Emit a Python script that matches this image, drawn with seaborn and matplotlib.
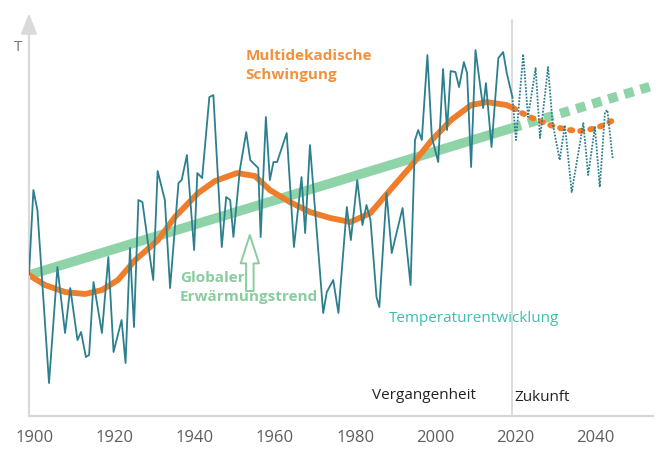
import numpy as np
import pandas as pd
import matplotlib.pyplot as plt
import seaborn as sns

# ---- data (arbitrary temperature units) ----
# Temperaturentwicklung, Vergangenheit (Eckpunkte der Zickzacklinie)
temp_years = [1898.6, 1899.7, 1900.7, 1903.6, 1905.7, 1907.6, 1908.9, 1910.7, 1911.6, 1912.8,
              1913.6, 1914.7, 1916.8, 1918.4, 1919.7, 1921.7, 1922.7, 1923.8, 1924.8, 1925.9,
              1926.9, 1928.8, 1929.6, 1930.7, 1932.5, 1933.8, 1935.9, 1936.7, 1938.0, 1939.8,
              1940.6, 1941.8, 1943.6, 1944.6, 1946.7, 1947.8, 1948.8, 1949.6, 1951.2, 1952.8,
              1953.8, 1955.8, 1956.4, 1957.7, 1958.7, 1959.6, 1960.5, 1962.9, 1964.7, 1966.6,
              1967.5, 1968.7, 1972.0, 1972.9, 1974.5, 1975.8, 1977.9, 1978.9, 1980.5, 1981.8,
              1982.8, 1983.8, 1985.3, 1986.0, 1987.8, 1989.1, 1991.8, 1993.8, 1994.9, 1995.7,
              1996.6, 1998.0, 1999.1, 2000.7, 2001.9, 2002.9, 2003.8, 2005.0, 2005.9, 2007.1,
              2007.9, 2008.9, 2010.0, 2011.9, 2012.6, 2014.0, 2015.7, 2016.9, 2017.8, 2019.2]
temp_values = [0.00, 0.85, 0.65, -1.08, 0.08, -0.58, -0.13, -0.65, -0.57, -0.82,
               -0.80, -0.07, -0.58, 0.18, -0.77, -0.45, -0.88, 0.27, -0.52, 0.75,
               0.73, 0.17, -0.05, 1.04, 0.75, -0.13, 0.92, 0.95, 1.20, 0.25,
               1.02, 0.97, 1.78, 1.80, 0.28, 0.78, 0.75, 0.38, 1.05, 1.43,
               1.15, 1.07, 0.38, 1.58, 0.95, 1.13, 1.13, 1.42, 0.28, 0.98,
               0.42, 1.30, -0.38, -0.17, -0.05, -0.38, 0.68, 0.35, 0.95, 0.50,
               0.70, 0.55, -0.22, -0.32, 0.82, 0.22, 0.67, -0.10, 1.35, 1.45,
               1.35, 2.20, 1.38, 1.13, 2.06, 1.45, 2.04, 2.03, 1.88, 2.13,
               2.02, 1.08, 2.25, 1.67, 1.92, 1.28, 2.17, 2.23, 2.02, 1.78]

# Temperaturentwicklung, Zukunft (gepunktet)
future_years = [2019.2, 2020.1, 2021.9, 2023.1, 2025.0, 2026.1, 2028.1, 2029.2, 2031.0, 2032.3,
                2034.0, 2036.9, 2038.1, 2039.8, 2041.0, 2042.3, 2042.9, 2044.2]
future_values = [1.78, 1.35, 2.21, 1.58, 2.07, 1.37, 2.08, 1.53, 1.15, 1.50,
                 0.83, 1.52, 1.00, 1.48, 0.88, 1.63, 1.65, 1.17]

# Multidekadische Schwingung
osc_years = [1898.6, 1902.6, 1907.6, 1912.6, 1916.8, 1920.8, 1925.1, 1930.8, 1935.0, 1940.8,
             1945.0, 1950.5, 1955.0, 1958.7, 1963.7, 1968.7, 1973.8, 1978.8, 1983.8, 1988.7,
             1993.7, 1999.1, 2003.9, 2008.9, 2012.8, 2017.8, 2019.4]
osc_values = [0.00, -0.10, -0.17, -0.19, -0.15, -0.05, 0.15, 0.35, 0.58, 0.82,
              0.94, 1.02, 0.99, 0.85, 0.73, 0.63, 0.57, 0.53, 0.62, 0.85,
              1.08, 1.35, 1.55, 1.70, 1.73, 1.70, 1.67]
osc_future_years = [2019.4, 2021.1, 2023.6, 2026.1, 2028.6, 2031.1, 2033.6, 2036.0, 2039.0, 2041.4, 2043.9]
osc_future_values = [1.67, 1.63, 1.58, 1.54, 1.50, 1.47, 1.45, 1.44, 1.46, 1.49, 1.54]

# Globaler Erwärmungstrend
trend_years = [1898.6, 2019.1]
trend_values = [0.00, 1.47]
trend_future_years = [2019.1, 2054.0]
trend_future_values = [1.47, 1.89]

tick_years = [1900, 1920, 1940, 1960, 1980, 2000, 2020, 2040]
divider_year = 2019.1

# ---- colours ----
c_teal = '#2c7f8d'
c_teal_text = '#3dbfae'
c_orange = '#ef7d2a'
c_orange_text = '#f0913e'
c_green = '#8fd4a9'
c_green_text = '#8acc9f'
c_axis = '#d6d6d6'

sns.set_theme(style='white')
plt.rcParams['font.family'] = ['Open Sans', 'DejaVu Sans']

fig = plt.figure(figsize=(6.6, 4.51), dpi=100)
ax = fig.add_axes([0.0439, 0.0776, 0.945, 0.8934])
xmin, xmax = 1898.6, 2054.2
ymin, ymax = -1.41, 2.62
ax.set_xlim(xmin, xmax)
ax.set_ylim(ymin, ymax)

# divider Vergangenheit / Zukunft
ax.plot([divider_year, divider_year], [ymin, 2.55], color=c_axis, lw=1.2, zorder=1)

# trend
sns.lineplot(x=trend_years, y=trend_values, ax=ax, color=c_green, lw=6.9,
             solid_capstyle='butt', zorder=2)
sns.lineplot(x=trend_future_years, y=trend_future_values, ax=ax, color=c_green, lw=6.9,
             linestyle=(0, (1.0, 0.75)), dash_capstyle='butt', zorder=2)

# multidecadal oscillation
sns.lineplot(x=osc_years, y=osc_values, ax=ax, color=c_orange, lw=4.2,
             solid_capstyle='round', solid_joinstyle='round', zorder=3)
sns.lineplot(x=osc_future_years, y=osc_future_values, ax=ax, color=c_orange, lw=4.2,
             linestyle=(0, (0.4, 1.35)), dash_capstyle='round', zorder=3)

# temperature
sns.lineplot(x=temp_years, y=temp_values, ax=ax, color=c_teal, lw=1.3, zorder=4)
sns.lineplot(x=future_years, y=future_values, ax=ax, color=c_teal, lw=1.3,
             linestyle=(0, (1, 0.8)), zorder=4)

# axes styling
for side in ['top', 'right', 'left']:
    ax.spines[side].set_visible(False)
ax.spines['bottom'].set_color(c_axis)
ax.spines['bottom'].set_linewidth(1.6)
ax.set_yticks([])
ax.set_xticks(tick_years)
ax.set_xticklabels([str(t) for t in tick_years])
ax.tick_params(axis='x', length=4, width=1, color=c_axis, labelcolor='#5e5e5e',
               labelsize=12, pad=6)
ax.set_xlabel('')
ax.set_ylabel('')

# y axis arrow
ax.annotate('', xy=(xmin, ymax), xytext=(xmin, ymin),
            arrowprops=dict(arrowstyle='-|>,head_length=0.9,head_width=0.35',
                            color='#dadada', lw=1.6, shrinkA=0, shrinkB=0,
                            mutation_scale=14))
ax.text(1895.9, 2.28, 'T', color='#777777', fontsize=11, ha='center', va='center',
        clip_on=False)

# labels
ax.text(1952.6, 1.96, 'Multidekadische\nSchwingung', color=c_orange_text, fontsize=11,
        fontweight='bold', ha='left', va='baseline', linespacing=1.45)
ax.text(1936.3, -0.26, 'Globaler\nErwärmungstrend', color=c_green_text, fontsize=11,
        fontweight='bold', ha='left', va='baseline', linespacing=1.45)
ax.annotate('', xy=(1953.7, 0.40), xytext=(1953.7, -0.16),
            arrowprops=dict(arrowstyle='simple,head_length=1.7,head_width=1.1,tail_width=0.45',
                            fc='white', ec=c_green_text, lw=1.4, shrinkA=0, shrinkB=0,
                            mutation_scale=12))
ax.text(1988.5, -0.47, 'Temperaturentwicklung', color=c_teal_text, fontsize=11,
        ha='left', va='baseline')
ax.text(1984.1, -1.24, 'Vergangenheit', color='#222222', fontsize=11,
        ha='left', va='baseline')
ax.text(2019.6, -1.26, 'Zukunft', color='#222222', fontsize=11,
        ha='left', va='baseline')

fig.savefig('out.png', dpi=100)
